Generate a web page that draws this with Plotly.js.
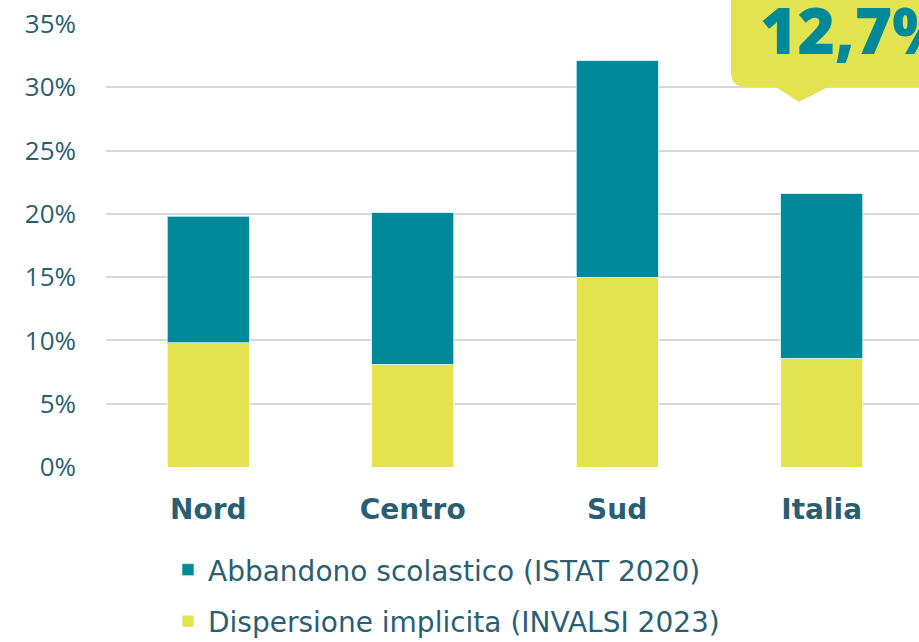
<!DOCTYPE html>
<html>
<head>
<meta charset="utf-8">
<script src="https://cdn.plot.ly/plotly-3.0.1.min.js"></script>
<style>html,body{margin:0;padding:0;background:#fff;}#chart{width:919px;height:642px;}</style>
</head>
<body>
<div id="chart"></div>
<script>
const categories = ["Nord", "Centro", "Sud", "Italia"];
const dispersioneImplicita = [9.8, 8.1, 15.0, 8.6];
const abbandonoScolastico = [10.0, 12.0, 17.1, 13.0];
const yTickValues = [0, 5, 10, 15, 20, 25, 30, 35];
const yTickLabels = ["0%", "5%", "10%", "15%", "20%", "25%", "30%", "35%"];
const calloutText = "12,7%";

const TEAL = "#008a99";
const YELLOW = "#e3e24f";
const TEXT = "#2a5f73";
const FONT = "Open Sans, Noto Sans, sans-serif";
const WIDE = "DejaVu Sans, Open Sans, sans-serif";

// figure geometry helpers (pixel -> paper)
const L = 106, R = 919, T = 24, B = 467;
const px = x => (x - L) / (R - L);
const py = y => (B - y) / (B - T);

const traces = [
  {
    type: "bar", name: "Dispersione implicita (INVALSI 2023)",
    x: categories, y: dispersioneImplicita,
    marker: {color: YELLOW, line: {color: "rgba(255,255,255,0.7)", width: 1}},
    legendgroup: "a", legendrank: 2, hoverinfo: "skip"
  },
  {
    type: "bar", name: "Abbandono scolastico (ISTAT 2020)",
    x: categories, y: abbandonoScolastico,
    marker: {color: TEAL, line: {color: "rgba(200,235,240,0.8)", width: 1}},
    legendgroup: "b", legendrank: 1, hoverinfo: "skip"
  }
];

const r = 15;
const path =
  "M " + px(731) + " " + py(-20) +
  " L " + px(950) + " " + py(-20) +
  " L " + px(950) + " " + py(87) +
  " L " + px(828) + " " + py(87) +
  " L " + px(799) + " " + py(102) +
  " L " + px(776) + " " + py(87) +
  " L " + px(731 + r) + " " + py(87) +
  " Q " + px(731) + " " + py(87) + " " + px(731) + " " + py(87 - r) +
  " Z";

const layout = {
  width: 919, height: 642,
  margin: {l: L, r: 919 - R, t: T, b: 642 - B, pad: 0, autoexpand: false},
  paper_bgcolor: "#fff", plot_bgcolor: "#fff",
  barmode: "stack", bargap: 0.6,
  showlegend: true,
  font: {family: FONT, color: TEXT},
  xaxis: {
    type: "category", range: [-0.5, 3.476],
    showgrid: false, zeroline: false, showline: false, ticks: "",
    tickfont: {family: WIDE, size: 28, color: TEXT, weight: 700},
    ticklabelstandoff: 23, automargin: false
  },
  yaxis: {
    range: [0, 35], tickvals: yTickValues, ticktext: yTickLabels,
    showgrid: true, gridcolor: "#d9d9d9", gridwidth: 2,
    zeroline: false, showline: false, ticks: "",
    tickfont: {family: FONT, size: 26, color: TEXT},
    ticklabelstandoff: 29, automargin: false
  },
  legend: {
    orientation: "v", x: px(168), xanchor: "left", y: py(545), yanchor: "top",
    traceorder: "grouped", tracegroupgap: 12,
    font: {family: WIDE, size: 28, color: TEXT},
    bgcolor: "rgba(0,0,0,0)"
  },
  shapes: [{
    type: "path", xref: "paper", yref: "paper", path: path,
    fillcolor: YELLOW, line: {width: 0}, layer: "above"
  }],
  annotations: [{
    xref: "paper", yref: "paper", x: px(758), y: py(29),
    xanchor: "left", yanchor: "middle", showarrow: false,
    text: calloutText,
    font: {family: FONT, size: 64, color: TEAL, weight: 800}
  }]
};

Plotly.newPlot("chart", traces, layout, {displayModeBar: false, staticPlot: true});
</script>
</body>
</html>
